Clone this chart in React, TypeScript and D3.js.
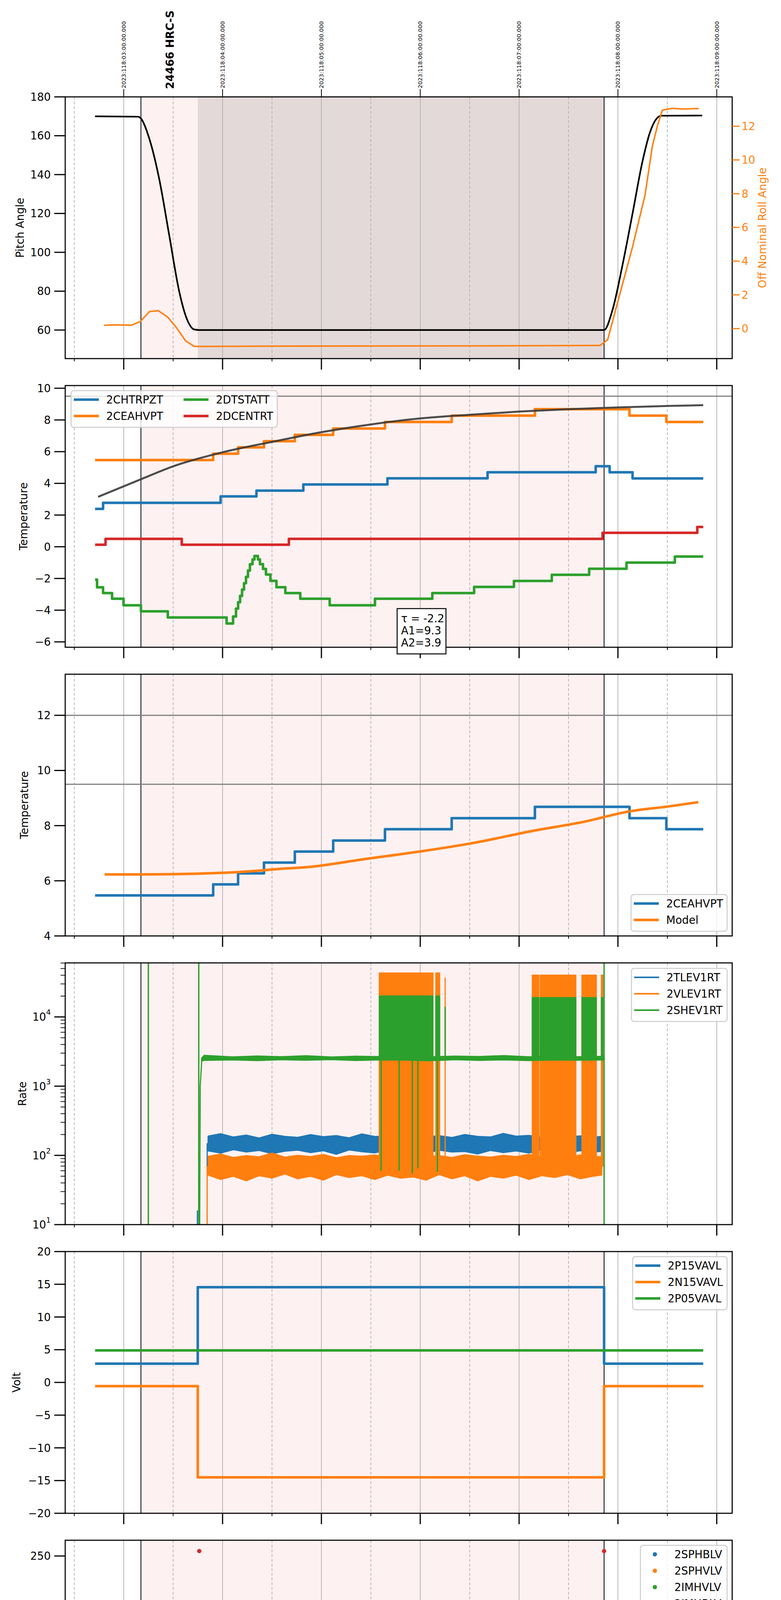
import React from "react";
import * as d3 from "d3";

type Pt = [number, number];
type Band = [number, number, number];
type Spike = [number, number, number];
type Scale = (v: number) => number;

// time is hours from 2023-04-28 00:00 (local)
const hourTicks = [-1, 0, 1, 2, 3, 4, 5];
const hourLabels = ["23h", "00h", "01h", "02h", "03h", "04h", "05h"];
const halfHourTicks = [-1.5, -0.5, 0.5, 1.5, 2.5, 3.5, 4.5];
const utcLabels = [
  "2023:118:03:00:00.000",
  "2023:118:04:00:00.000",
  "2023:118:05:00:00.000",
  "2023:118:06:00:00.000",
  "2023:118:07:00:00.000",
  "2023:118:08:00:00.000",
  "2023:118:09:00:00.000",
];
const obsStart = -0.826;
const obsEnd = 3.86;
const hvOn = -0.251;
const obsLabelT = -0.533;

// panel 1: pitch / roll
const pitchAngle: Pt[] = [
  [-1.29, 170], [-0.856, 169.8], [-0.826, 168.9], [-0.74, 158.3], [-0.64, 137.5], [-0.539, 108.6],
  [-0.438, 79.7], [-0.362, 65.8], [-0.287, 60.3], [-0.236, 60], [3.86, 60], [3.946, 70.5],
  [4.047, 93.6], [4.148, 120], [4.248, 146.7], [4.324, 161.7], [4.4, 169.3], [4.44, 170.3], [4.853, 170.4],
];
const rollAngle: Pt[] = [
  [-1.199, 0.19], [-1.106, 0.22], [-0.921, 0.2], [-0.832, 0.42], [-0.739, 1.01], [-0.65, 1.06],
  [-0.555, 0.68], [-0.462, 0.02], [-0.374, -0.73], [-0.285, -1.06], [0.514, -1.04], [2.0, -1.03],
  [3.0, -1.02], [3.82, -1.0], [3.896, -0.66], [3.996, 1.53], [4.148, 4.85], [4.274, 7.91],
  [4.349, 10.84], [4.4, 12.03], [4.45, 12.96], [4.551, 13.06], [4.652, 13.02], [4.818, 13.05],
];

// panel 2: temperatures
const chtrpzt: Pt[] = [
  [-1.29, 2.39], [-1.209, 2.77], [-0.02, 3.18], [0.343, 3.54], [0.817, 3.93], [1.668, 4.32],
  [2.681, 4.7], [3.775, 5.08], [3.916, 4.7], [4.148, 4.31], [4.863, 4.31],
];
const ceahvpt: Pt[] = [
  [-1.29, 5.47], [-0.095, 5.87], [0.157, 6.27], [0.419, 6.66], [0.731, 7.06], [1.119, 7.46],
  [1.643, 7.87], [2.318, 8.27], [3.16, 8.68], [4.117, 8.27], [4.49, 7.87], [4.863, 7.87],
];
const dtstatt: Pt[] = [
  [-1.29, -2.07], [-1.27, -2.56], [-1.209, -2.92], [-1.118, -3.28], [-1.002, -3.69], [-0.826, -4.07],
  [-0.554, -4.46], [0.041, -4.84], [0.106, -4.4], [0.136, -3.9], [0.157, -3.5], [0.177, -3.1],
  [0.197, -2.7], [0.217, -2.3], [0.237, -1.9], [0.257, -1.5], [0.277, -1.1], [0.303, -0.8],
  [0.323, -0.58], [0.358, -0.8], [0.378, -1.1], [0.409, -1.4], [0.439, -1.75], [0.484, -2.15],
  [0.545, -2.55], [0.635, -2.92], [0.786, -3.28], [1.084, -3.69], [1.542, -3.28], [2.122, -2.92],
  [2.545, -2.53], [2.948, -2.16], [3.331, -1.77], [3.709, -1.39], [4.087, -1.0], [4.576, -0.62],
  [4.863, -0.62],
];
const dcentrt: Pt[] = [
  [-1.29, 0.13], [-1.184, 0.5], [-0.413, 0.13], [0.671, 0.5], [3.845, 0.88], [4.803, 1.25], [4.863, 1.25],
];
const ceahvptFit: Pt[] = [
  [-1.259, 3.15], [-0.826, 4.26], [-0.498, 5.08], [0, 5.96], [0.504, 6.62], [1.003, 7.23],
  [1.502, 7.72], [2.006, 8.1], [2.505, 8.33], [3.004, 8.53], [3.503, 8.68], [4.001, 8.79],
  [4.5, 8.88], [4.863, 8.93],
];
const fitText = ["\u03c4 = -2.2", "A1=9.3", "A2=3.9"];

// panel 3: model
const ceahvptModel: Pt[] = [
  [-1.194, 6.23], [-0.826, 6.23], [-0.236, 6.26], [0.268, 6.34], [0.57, 6.43], [0.872, 6.5],
  [1.426, 6.78], [2.031, 7.08], [2.535, 7.37], [3.14, 7.81], [3.644, 8.13], [4.122, 8.52],
  [4.5, 8.69], [4.813, 8.85],
];

// bursts of toggling telemetry: [start, end, zone]
const burstBlocks: [number, number, number][] = [
  [1.586, 1.672, 0], [1.676, 1.849, 0], [1.852, 1.997, 0], [2.004, 2.128, 0], [2.158, 2.196, 0],
  [3.134, 3.2, 1], [3.215, 3.574, 1], [3.636, 3.781, 1], [3.833, 3.846, 1],
];

// panel 4: rates (log), envelopes of the noisy traces [t, low, high]
const tlevBand: Band[] = [
  [-0.146, 116, 190], [-0.02, 108, 205], [0.11, 121, 184], [0.24, 112, 196], [0.37, 118, 178],
  [0.5, 106, 201], [0.63, 115, 188], [0.76, 119, 182], [0.89, 110, 199], [1.02, 117, 186],
  [1.15, 104, 193], [1.28, 120, 179], [1.41, 113, 204], [1.54, 109, 187], [1.67, 118, 190],
  [1.8, 111, 183], [1.93, 116, 197], [2.06, 107, 185], [2.19, 119, 192], [2.32, 112, 181],
  [2.45, 114, 200], [2.58, 105, 188], [2.71, 118, 184], [2.84, 110, 207], [2.97, 116, 189],
  [3.1, 108, 194], [3.23, 121, 182], [3.36, 113, 198], [3.49, 109, 186], [3.62, 117, 191],
  [3.75, 111, 183], [3.836, 115, 188],
];
const vlevBand: Band[] = [
  [-0.146, 52, 97], [-0.02, 45, 104], [0.11, 50, 93], [0.24, 43, 99], [0.37, 51, 95],
  [0.5, 47, 108], [0.63, 54, 94], [0.76, 46, 100], [0.89, 50, 96], [1.02, 44, 103],
  [1.15, 53, 92], [1.28, 48, 99], [1.41, 51, 97], [1.54, 45, 101], [1.67, 52, 94],
  [1.8, 47, 98], [1.93, 49, 105], [2.06, 44, 95], [2.19, 53, 99], [2.32, 46, 93],
  [2.45, 51, 102], [2.58, 43, 97], [2.71, 50, 94], [2.84, 47, 100], [2.97, 52, 96],
  [3.1, 45, 103], [3.23, 51, 95], [3.36, 48, 99], [3.49, 53, 94], [3.62, 46, 101],
  [3.75, 50, 97], [3.836, 52, 95],
];
const shevBand: Band[] = [
  [-0.211, 2300, 2550], [-0.186, 2360, 2780], [0.1, 2400, 2640], [0.35, 2340, 2720], [0.6, 2410, 2660],
  [0.85, 2370, 2750], [1.1, 2420, 2630], [1.35, 2350, 2700], [1.6, 2400, 2670], [1.85, 2380, 2740],
  [2.1, 2330, 2650], [2.35, 2410, 2710], [2.6, 2360, 2680], [2.85, 2400, 2760], [3.1, 2340, 2650],
  [3.35, 2390, 2720], [3.6, 2370, 2660], [3.86, 2400, 2690],
];
const shevRamp: Pt[] = [[-0.236, 1], [-0.231, 16], [-0.226, 1000], [-0.211, 2300]];
const tlevSpikes: Spike[] = [[-0.255, 1, 16], [-0.156, 1, 150]];
const vlevSpikes: Spike[] = [[-0.156, 1, 70], [2.252, 70, 37000]];
const shevSpikes: Spike[] = [
  [-0.751, 1, 1e6], [-0.241, 1, 1e6], [3.86, 1, 1e6], [1.604, 2500, 60], [1.786, 2500, 60],
  [1.92, 2500, 55], [1.976, 2500, 65], [2.174, 2500, 58], [2.252, 2500, 14000],
];
const vlevBurstTop = [43000, 40000];
const shevBurstTop = [20000, 19000];

// panel 5: voltages
const p15vavl: Pt[] = [[-1.29, 2.86], [-0.251, 14.55], [3.86, 2.86], [4.863, 2.86]];
const n15vavl: Pt[] = [[-1.29, -0.56], [-0.251, -14.5], [3.86, -0.56], [4.863, -0.56]];
const p05vavl: Pt[] = [[-1.29, 4.9], [4.863, 4.9]];

// panel 6: HV monitors (sparse points + dense runs [t0, t1, value])
const sphblvPts: Pt[] = [[-0.201, 117.8], [-0.191, 101.8], [-0.181, 97.3], [-0.171, 91.6], [-0.161, 86.8], [-0.151, 82]];
const sphblvRun: Band[] = [[-0.141, 3.855, 77.4]];
const sphvlvPts: Pt[] = [
  [-0.201, 126.7], [-0.191, 96], [-0.181, 91], [-0.171, 85], [-0.161, 80.6], [-0.151, 75],
  [1.593, 126.7], [1.618, 126.7], [1.643, 126.7], [1.694, 126.7], [1.719, 126.7], [1.744, 126.7],
  [1.779, 126.7], [1.905, 126.7], [3.23, 126.7], [3.291, 126.7], [3.351, 126.7], [3.392, 126.7],
  [3.432, 126.7], [3.467, 126.7], [3.558, 126.7], [3.674, 126.7], [3.729, 126.7],
];
const sphvlvRun: Band[] = [[-0.141, 3.855, 70.7]];
const imhblvPts: Pt[] = [[-0.236, 255], [3.86, 255]];

// panel 7: detector temps
const spinatm: Pt[] = [
  [-0.241, 2.79], [0.106, 3.3], [0.126, 3.9], [0.147, 4.6], [0.167, 5.1], [0.187, 5.6], [0.207, 6.2],
  [0.227, 6.7], [0.247, 7.3], [0.268, 7.7], [0.293, 8.03], [0.348, 7.7], [0.368, 7.3], [0.394, 6.92],
  [0.429, 6.6], [0.469, 6.0], [0.509, 5.52], [0.57, 5.05], [0.65, 4.6], [0.771, 4.14], [0.958, 3.7],
  [1.366, 3.24], [3.543, 3.7], [3.836, 3.7],
];
const sphvatm: Pt[] = [
  [-0.241, 14.6], [-0.235, 15.0], [-0.06, 15.3], [0.005, 15.57], [0.081, 15.84], [0.157, 16.13],
  [0.232, 16.4], [0.308, 16.68], [0.404, 16.97], [0.509, 17.27], [0.635, 17.56], [0.761, 17.84],
  [0.923, 18.14], [1.099, 18.43], [1.3, 18.71], [1.55, 19.04], [1.85, 19.28], [2.273, 19.6],
  [2.768, 19.89], [3.421, 20.22], [3.836, 20.22],
];
const iminatm: Pt[] = [[-0.241, 0.65], [0.857, 1.1], [3.064, 1.49], [3.836, 1.49]];
const imhvatm: Pt[] = [
  [-0.241, 14.43], [0.409, 14.75], [0.731, 15.0], [1.049, 15.25], [1.401, 15.54], [1.833, 15.83],
  [2.365, 16.12], [2.945, 16.4], [3.719, 16.68], [3.836, 16.68],
];
const spinatmSpikes: Spike[] = [[1.411, 3.24, 3.7]];
const sphvatmSpikes: Spike[] = [[1.604, 19.04, -1.5], [1.784, 19.04, -1.5], [1.978, 19.28, -1.5]];
const iminatmSpikes: Spike[] = [[0.807, 0.65, 1.1], [0.973, 1.1, 0.65], [1.784, 1.1, -1.5]];
const imhvatmSpikes: Spike[] = [
  [-0.241, -1.5, 14.43], [0.026, 14.43, 14.1], [1.604, 15.54, -1.5], [1.784, 15.54, -1.5],
  [1.91, 15.83, -1.5], [1.975, 15.83, -1.5], [3.86, -1.5, 22],
];
const spinatmBurst = [-1.5, -1.5];
const sphvatmBurst = [10.49, 11.05];
const iminatmBurst = [3.28, 3.28];
const imhvatmBurst = [19.15, 20.22];

// panel 8: FEA temps
const fhtrmzt: Pt[] = [
  [-1.29, -8.79], [-1.033, -8.37], [0.026, -7.97], [0.192, -7.56], [0.343, -7.16], [0.494, -6.76],
  [0.645, -6.36], [0.807, -5.98], [0.973, -5.6], [1.139, -5.19], [1.326, -4.8], [1.517, -4.42],
  [1.704, -4.02], [1.89, -3.61], [2.122, -3.26], [2.334, -2.89], [2.545, -2.5], [2.787, -2.12],
  [3.019, -1.75], [3.215, -1.4], [3.392, -1.0], [3.775, -0.61], [4.183, -1.0], [4.45, -1.37],
  [4.803, -1.75], [4.863, -1.75],
];
const fradpyt: Pt[] = [
  [-0.765, -10.03], [-0.498, -11], [0.116, -10.03], [0.308, -9.63], [0.494, -9.2], [0.671, -8.79],
  [0.847, -8.39], [1.049, -7.97], [1.25, -7.56], [1.467, -7.16], [1.678, -6.76], [1.895, -6.36],
  [2.122, -5.98], [2.374, -5.6], [2.626, -5.19], [2.878, -4.8], [3.14, -4.42], [3.392, -4.02],
  [3.694, -3.64], [4.122, -4.03], [4.863, -4.03],
];
const fepratm: Pt[] = [
  [-0.221, -7.44], [-0.196, -7.03], [-0.171, -6.63], [-0.136, -6.28], [-0.085, -5.78], [-0.02, -5.42],
  [0.056, -5.02], [0.167, -4.62], [0.283, -4.22], [0.409, -3.8], [0.545, -3.41], [0.706, -3.01],
  [0.857, -2.61], [1.033, -2.2], [1.21, -1.8], [1.401, -1.38], [1.588, -1.0], [1.85, -0.6],
  [2.122, -0.16], [2.3, 0.26], [2.53, 0.69], [2.81, 1.09], [3.08, 1.54], [3.542, 1.94], [3.836, 1.94],
];
const fe00atm: Pt[] = [
  [-0.247, -6.31], [-0.136, -6.0], [0.041, -5.6], [0.141, -5.2], [0.242, -4.87], [0.358, -4.52],
  [0.469, -4.17], [0.57, -3.81], [0.706, -3.46], [0.832, -3.13], [0.948, -2.78], [1.099, -2.44],
  [1.24, -2.1], [1.376, -1.77], [1.527, -1.45], [1.7, -1.2], [1.85, -0.87], [2.034, -0.47],
  [2.204, -0.14], [2.381, 0.2], [2.559, 0.53], [2.744, 0.79], [2.929, 1.09], [3.139, 1.45],
  [3.333, 1.73], [3.542, 1.98], [3.752, 2.14], [3.836, 2.14],
];
const fradpytSpikes: Spike[] = [[-0.765, -11, -10.03]];
const fepratmSpikes: Spike[] = [[-0.221, -7.6, -7.44]];
const fe00atmSpikes: Spike[] = [
  [-0.247, -11, -6.31], [0.645, -3.81, -4.6], [2.114, -0.47, -1.49], [2.171, -0.47, 3], [2.37, 0.2, 0.53],
  [3.058, 1.09, 0.79], [1.604, -1.45, -11], [1.784, -1.2, -11], [1.91, -0.87, -11], [1.975, -0.87, -11],
  [3.86, -11, 3],
];
const fepratmBurst = [-4.66, -4.66];
const fe00atmBurst = [3, 3];

// ---------------- layout ----------------
const LEFT = 167;
const RIGHT = 1875;
const TOP0 = 248;
const PH = 670;
const STEP = 739;
const FS = 27.5;
const C = { blue: "#1f77b4", orange: "#ff7f0e", green: "#2ca02c", red: "#d62728" };

const x = d3.scaleLinear().domain([-1.592, 5.156]).range([LEFT, RIGHT]);
const ptop = (i: number) => TOP0 + i * STEP;
const ylin = (i: number, dom: [number, number]) =>
  d3.scaleLinear().domain(dom).range([ptop(i) + PH, ptop(i)]);
const minus = (v: number | string) => String(v).replace("-", "\u2212");

const stepAt = (s: Pt[], t: number) => {
  let v = s[0][1];
  for (const p of s) {
    if (p[0] <= t) v = p[1];
    else break;
  }
  return v;
};
const stepPath = (y: Scale, d: Pt[]) =>
  d3.line<Pt>().x((p) => x(p[0])).y((p) => y(p[1])).curve(d3.curveStepAfter)(d) ?? "";
const smoothPath = (y: Scale, d: Pt[]) =>
  d3.line<Pt>().x((p) => x(p[0])).y((p) => y(p[1])).curve(d3.curveMonotoneX)(d) ?? "";
const linePath = (y: Scale, d: Pt[]) => d3.line<Pt>().x((p) => x(p[0])).y((p) => y(p[1]))(d) ?? "";
const bandPath = (y: Scale, d: Band[]) =>
  d3.area<Band>().x((p) => x(p[0])).y0((p) => y(p[1])).y1((p) => y(p[2]))(d) ?? "";
const burstPath = (y: Scale, s: Pt[] | number, a: number, b: number, target: number) => {
  const base = (t: number) => (typeof s === "number" ? s : stepAt(s, t));
  const inner = typeof s === "number" ? [] : s.filter((p) => p[0] > a && p[0] < b);
  const pts: Pt[] = [[a, base(a)], ...inner, [b, base(b)]];
  return (
    d3.area<Pt>().x((p) => x(p[0])).y0(y(target)).y1((p) => y(p[1])).curve(d3.curveStepAfter)(pts) ?? ""
  );
};

const Series: React.FC<{
  y: Scale;
  data: Pt[];
  color: string;
  w?: number;
  burst?: number[];
  spikes?: Spike[];
}> = ({ y, data, color, w = 6.5, burst, spikes }) => (
  <g>
    {burst &&
      burstBlocks.map(([a, b, z], k) => (
        <path key={k} d={burstPath(y, data, a, b, burst[z])} fill={color} stroke={color} strokeWidth={3} />
      ))}
    <path d={stepPath(y, data)} fill="none" stroke={color} strokeWidth={w} strokeLinejoin="round" />
    {spikes?.map(([t, v0, v1], k) => (
      <line key={k} x1={x(t)} x2={x(t)} y1={y(v0)} y2={y(v1)} stroke={color} strokeWidth={w} />
    ))}
  </g>
);

const Frame: React.FC<{
  i: number;
  y: Scale;
  ticks: number[];
  fmt: (v: number) => React.ReactNode;
  ylabel: string;
  labelX: number;
  minor?: number[];
  dark?: boolean;
  children?: React.ReactNode;
}> = ({ i, y, ticks, fmt, ylabel, labelX, minor, dark, children }) => {
  const t0 = ptop(i);
  const t1 = t0 + PH;
  return (
    <g>
      <defs>
        <clipPath id={`clip${i}`}>
          <rect x={LEFT} y={t0} width={RIGHT - LEFT} height={PH} />
        </clipPath>
      </defs>
      <rect x={x(obsStart)} y={t0} width={x(obsEnd) - x(obsStart)} height={PH} fill="#fef1f1" />
      {dark && <rect x={x(hvOn)} y={t0} width={x(obsEnd) - x(hvOn)} height={PH} fill="#e4d9d9" />}
      {hourTicks.map((h) => (
        <line key={h} x1={x(h)} x2={x(h)} y1={t0} y2={t1} stroke="#b0b0b0" strokeWidth={1.8} />
      ))}
      {halfHourTicks.map((h) => (
        <line key={h} x1={x(h)} x2={x(h)} y1={t0} y2={t1} stroke="#b0b0b0" strokeWidth={1.8} strokeDasharray="7 5" />
      ))}
      {[obsStart, obsEnd].map((t) => (
        <line key={t} x1={x(t)} x2={x(t)} y1={t0} y2={t1} stroke="#000" strokeWidth={2} />
      ))}
      <g clipPath={`url(#clip${i})`}>{children}</g>
      <rect x={LEFT} y={t0} width={RIGHT - LEFT} height={PH} fill="none" stroke="#000" strokeWidth={2.8} />
      {ticks.map((v) => (
        <g key={v}>
          <line x1={LEFT - 28} x2={LEFT} y1={y(v)} y2={y(v)} stroke="#000" strokeWidth={3} />
          <text x={LEFT - 37} y={y(v)} textAnchor="end" dominantBaseline="central" fontSize={FS}>
            {fmt(v)}
          </text>
        </g>
      ))}
      {minor?.map((v) => (
        <line key={v} x1={LEFT - 12} x2={LEFT} y1={y(v)} y2={y(v)} stroke="#000" strokeWidth={1.8} />
      ))}
      {hourTicks.map((h) => (
        <line key={h} x1={x(h)} x2={x(h)} y1={t1} y2={t1 + 28} stroke="#000" strokeWidth={3} />
      ))}
      {halfHourTicks.map((h) => (
        <line key={h} x1={x(h)} x2={x(h)} y1={t1} y2={t1 + 7} stroke="#000" strokeWidth={2} />
      ))}
      <text
        transform={`translate(${labelX},${t0 + PH / 2}) rotate(-90)`}
        textAnchor="middle"
        dominantBaseline="central"
        fontSize={FS}
      >
        {ylabel}
      </text>
    </g>
  );
};

const Legend: React.FC<{
  x0: number;
  y0: number;
  w: number;
  rows: number;
  items: { label: string; color: string }[];
  colW?: number;
  lw?: number;
  dots?: boolean;
}> = ({ x0, y0, w, rows, items, colW = 0, lw = 6.5, dots }) => (
  <g>
    <rect x={x0} y={y0} width={w} height={10 + 42 * rows} rx={7} fill="#fff" fillOpacity={0.8} stroke="#cccccc" strokeWidth={2.5} />
    {items.map((it, k) => {
      const r = k % rows;
      const c = Math.floor(k / rows);
      const yy = y0 + 23 + r * 42;
      const xx = x0 + c * colW;
      return (
        <g key={it.label}>
          {dots ? (
            <circle cx={xx + 37} cy={yy} r={5.5} fill={it.color} />
          ) : (
            <line x1={xx + 7} x2={xx + 71} y1={yy} y2={yy} stroke={it.color} strokeWidth={lw} />
          )}
          <text x={xx + (dots ? 87 : 90)} y={yy} dominantBaseline="central" fontSize={FS}>
            {it.label}
          </text>
        </g>
      );
    })}
  </g>
);

export default function App() {
  const y1 = ylin(0, [45.3, 180]);
  const y1r = ylin(0, [-1.78, 13.74]);
  const y2 = ylin(1, [-6.34, 10.17]);
  const y3 = ylin(2, [4, 13.49]);
  const y4 = d3.scaleLog().domain([10, 60300]).range([ptop(3) + PH, ptop(3)]);
  const y5 = ylin(4, [-20, 20]);
  const y6 = ylin(5, [0, 266]);
  const y7 = ylin(6, [-0.86, 21.37]);
  const y8 = ylin(7, [-10.3, 2.28]);

  const logMinor: number[] = [];
  [10, 100, 1000, 10000].forEach((d) => [2, 3, 4, 5, 6, 7, 8, 9].forEach((m) => m * d < 60300 && logMinor.push(m * d)));
  const bottom = ptop(7) + PH;

  return (
    <div style={{ margin: "-8px 0 0 -8px", width: 2000, height: 6200 }}>
      <svg width={2000} height={6200} fontFamily="DejaVu Sans" style={{ display: "block", background: "#fff" }}>
        {/* panel 1 */}
        <Frame i={0} y={y1} ticks={d3.range(60, 181, 20)} fmt={(v) => v} ylabel="Pitch Angle" labelX={51} dark>
          <path d={smoothPath(y1, pitchAngle)} fill="none" stroke="#000" strokeWidth={4.2} />
          <path d={linePath(y1r, rollAngle)} fill="none" stroke={C.orange} strokeWidth={3.8} strokeLinejoin="round" />
        </Frame>
        {d3.range(0, 13, 2).map((v) => (
          <g key={v}>
            <line x1={RIGHT} x2={RIGHT + 19} y1={y1r(v)} y2={y1r(v)} stroke={C.orange} strokeWidth={3} />
            <text x={RIGHT + 24} y={y1r(v)} dominantBaseline="central" fontSize={FS} fill={C.orange}>
              {v}
            </text>
          </g>
        ))}
        <text
          transform={`translate(1952,${TOP0 + PH / 2}) rotate(-90)`}
          textAnchor="middle"
          dominantBaseline="central"
          fontSize={FS}
          fill={C.orange}
        >
          Off Nominal Roll Angle
        </text>
        {hourTicks.map((h, k) => (
          <g key={h}>
            <line x1={x(h)} x2={x(h)} y1={TOP0 - 20} y2={TOP0} stroke="#000" strokeWidth={2} />
            <text transform={`translate(${x(h)},${TOP0 - 22}) rotate(-90)`} dominantBaseline="central" fontSize={14.5}>
              {utcLabels[k]}
            </text>
          </g>
        ))}
        <text
          transform={`translate(${x(obsLabelT)},${TOP0 - 20}) rotate(-90)`}
          dominantBaseline="central"
          fontSize={FS}
          fontWeight="bold"
        >
          24466 HRC-S
        </text>

        {/* panel 2 */}
        <Frame i={1} y={y2} ticks={d3.range(-6, 11, 2)} fmt={minus} ylabel="Temperature" labelX={60}>
          <line x1={LEFT} x2={RIGHT} y1={y2(9.5)} y2={y2(9.5)} stroke="#808080" strokeWidth={3} />
          <Series y={y2} data={chtrpzt} color={C.blue} />
          <Series y={y2} data={ceahvpt} color={C.orange} />
          <Series y={y2} data={dtstatt} color={C.green} />
          <Series y={y2} data={dcentrt} color={C.red} />
          <path d={smoothPath(y2, ceahvptFit)} fill="none" stroke="#3a3a3a" strokeOpacity={0.9} strokeWidth={5} />
        </Frame>
        <Legend
          x0={182}
          y0={1000}
          w={528}
          rows={2}
          colW={281}
          items={[
            { label: "2CHTRPZT", color: C.blue },
            { label: "2CEAHVPT", color: C.orange },
            { label: "2DTSTATT", color: C.green },
            { label: "2DCENTRT", color: C.red },
          ]}
        />
        <g>
          <rect x={1017} y={1558} width={125} height={116} fill="#fff" stroke="#000" strokeWidth={2.5} />
          {fitText.map((s, k) => (
            <text key={s} x={1027} y={1583 + k * 31} dominantBaseline="central" fontSize={FS}>
              {s}
            </text>
          ))}
        </g>

        {/* panel 3 */}
        <Frame i={2} y={y3} ticks={[4, 6, 8, 10, 12]} fmt={(v) => v} ylabel="Temperature" labelX={62}>
          <line x1={LEFT} x2={RIGHT} y1={y3(12)} y2={y3(12)} stroke="#808080" strokeWidth={3} />
          <line x1={LEFT} x2={RIGHT} y1={y3(9.5)} y2={y3(9.5)} stroke="#808080" strokeWidth={3} />
          <Series y={y3} data={ceahvpt} color={C.blue} />
          <path d={smoothPath(y3, ceahvptModel)} fill="none" stroke={C.orange} strokeWidth={6.5} />
        </Frame>
        <Legend
          x0={1616}
          y0={2290}
          w={246}
          rows={2}
          items={[
            { label: "2CEAHVPT", color: C.blue },
            { label: "Model", color: C.orange },
          ]}
        />

        {/* panel 4 */}
        <Frame
          i={3}
          y={y4}
          ticks={[10, 100, 1000, 10000]}
          fmt={(v) => (
            <>
              <tspan>10</tspan>
              <tspan dy={-12} fontSize={19}>
                {Math.round(Math.log10(v))}
              </tspan>
            </>
          )}
          minor={logMinor}
          ylabel="Rate"
          labelX={57}
        >
          <path d={bandPath(y4, tlevBand)} fill={C.blue} stroke={C.blue} strokeWidth={3} strokeLinejoin="bevel" />
          {tlevSpikes.map(([t, a, b], k) => (
            <line key={k} x1={x(t)} x2={x(t)} y1={y4(a)} y2={y4(b)} stroke={C.blue} strokeWidth={3} />
          ))}
          <path d={bandPath(y4, vlevBand)} fill={C.orange} stroke={C.orange} strokeWidth={3} strokeLinejoin="bevel" />
          {burstBlocks.map(([a, b, z], k) => (
            <path key={k} d={burstPath(y4, 70, a, b, vlevBurstTop[z])} fill={C.orange} stroke={C.orange} strokeWidth={3} />
          ))}
          {vlevSpikes.map(([t, a, b], k) => (
            <line key={k} x1={x(t)} x2={x(t)} y1={y4(a)} y2={y4(b)} stroke={C.orange} strokeWidth={3} />
          ))}
          <path d={bandPath(y4, shevBand)} fill={C.green} stroke={C.green} strokeWidth={3} strokeLinejoin="bevel" />
          <path d={linePath(y4, shevRamp)} fill="none" stroke={C.green} strokeWidth={3} />
          {burstBlocks.map(([a, b, z], k) => (
            <path key={k} d={burstPath(y4, 2500, a, b, shevBurstTop[z])} fill={C.green} stroke={C.green} strokeWidth={3} />
          ))}
          {shevSpikes.map(([t, a, b], k) => (
            <line key={k} x1={x(t)} x2={x(t)} y1={y4(a)} y2={y4(b)} stroke={C.green} strokeWidth={3.5} />
          ))}
        </Frame>
        <Legend
          x0={1617}
          y0={2479}
          w={245}
          rows={3}
          lw={4}
          items={[
            { label: "2TLEV1RT", color: C.blue },
            { label: "2VLEV1RT", color: C.orange },
            { label: "2SHEV1RT", color: C.green },
          ]}
        />

        {/* panel 5 */}
        <Frame i={4} y={y5} ticks={d3.range(-20, 21, 5)} fmt={minus} ylabel="Volt" labelX={42}>
          <Series y={y5} data={p15vavl} color={C.blue} />
          <Series y={y5} data={n15vavl} color={C.orange} />
          <Series y={y5} data={p05vavl} color={C.green} />
        </Frame>
        <Legend
          x0={1620}
          y0={3217}
          w={242}
          rows={3}
          items={[
            { label: "2P15VAVL", color: C.blue },
            { label: "2N15VAVL", color: C.orange },
            { label: "2P05VAVL", color: C.green },
          ]}
        />

        {/* panel 6 */}
        <Frame i={5} y={y6} ticks={d3.range(0, 251, 50)} fmt={(v) => v} ylabel="HV Monitor" labelX={48}>
          {sphblvRun.map(([a, b, v], k) => (
            <line key={k} x1={x(a)} x2={x(b)} y1={y6(v)} y2={y6(v)} stroke={C.blue} strokeWidth={12} strokeLinecap="round" />
          ))}
          {sphblvPts.map(([t, v], k) => (
            <circle key={k} cx={x(t)} cy={y6(v)} r={5.5} fill={C.blue} />
          ))}
          {sphvlvRun.map(([a, b, v], k) => (
            <line key={k} x1={x(a)} x2={x(b)} y1={y6(v)} y2={y6(v)} stroke={C.orange} strokeWidth={11} strokeLinecap="round" />
          ))}
          {sphvlvPts.map(([t, v], k) => (
            <circle key={k} cx={x(t)} cy={y6(v)} r={5.5} fill={C.orange} />
          ))}
          {imhblvPts.map(([t, v], k) => (
            <circle key={k} cx={x(t)} cy={y6(v)} r={5.5} fill={C.red} />
          ))}
        </Frame>
        <Legend
          x0={1640}
          y0={3956}
          w={222}
          rows={4}
          dots
          items={[
            { label: "2SPHBLV", color: C.blue },
            { label: "2SPHVLV", color: C.orange },
            { label: "2IMHVLV", color: C.green },
            { label: "2IMHBLV", color: C.red },
          ]}
        />

        {/* panel 7 */}
        <Frame i={6} y={y7} ticks={d3.range(0, 20.1, 2.5)} fmt={(v) => v.toFixed(1)} ylabel="Detector Temp" labelX={42}>
          <Series y={y7} data={spinatm} color={C.blue} burst={spinatmBurst} spikes={spinatmSpikes} />
          <Series y={y7} data={sphvatm} color={C.orange} burst={sphvatmBurst} spikes={sphvatmSpikes} />
          <Series y={y7} data={iminatm} color={C.green} burst={iminatmBurst} spikes={iminatmSpikes} />
          <Series y={y7} data={imhvatm} color={C.red} burst={imhvatmBurst} spikes={imhvatmSpikes} />
        </Frame>
        <Legend
          x0={1616}
          y0={4695}
          w={246}
          rows={4}
          items={[
            { label: "2SPINATM", color: C.blue },
            { label: "2SPHVATM", color: C.orange },
            { label: "2IMINATM", color: C.green },
            { label: "2IMHVATM", color: C.red },
          ]}
        />

        {/* panel 8 */}
        <Frame i={7} y={y8} ticks={d3.range(-10, 2.1, 2)} fmt={minus} ylabel="FEA Temp" labelX={45}>
          <Series y={y8} data={fhtrmzt} color={C.blue} />
          <Series y={y8} data={fradpyt} color={C.orange} spikes={fradpytSpikes} />
          <Series y={y8} data={fepratm} color={C.green} burst={fepratmBurst} spikes={fepratmSpikes} />
          <Series y={y8} data={fe00atm} color={C.red} burst={fe00atmBurst} spikes={fe00atmSpikes} />
        </Frame>
        <Legend
          x0={1613}
          y0={5901}
          w={249}
          rows={4}
          items={[
            { label: "2FHTRMZT", color: C.blue },
            { label: "2FRADPYT", color: C.orange },
            { label: "2FEPRATM", color: C.green },
            { label: "2FE00ATM", color: C.red },
          ]}
        />

        {/* time axis */}
        {halfHourTicks.map((h) => (
          <text key={h} x={x(h)} y={bottom + 14} textAnchor="middle" dominantBaseline="central" fontSize={17}>
            30
          </text>
        ))}
        {hourTicks.map((h, k) => (
          <text key={h} x={x(h)} y={bottom + 50} textAnchor="middle" dominantBaseline="central" fontSize={FS}>
            {hourLabels[k]}
          </text>
        ))}
        <text x={(LEFT + RIGHT) / 2} y={bottom + 88} textAnchor="middle" dominantBaseline="central" fontSize={33}>
          2023-04-28 (118)
        </text>
      </svg>
    </div>
  );
}
